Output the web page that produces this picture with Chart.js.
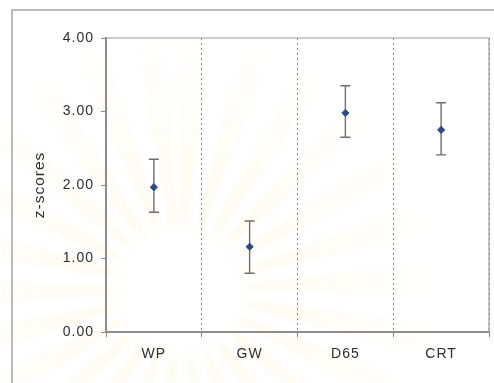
<!DOCTYPE html>
<html>
<head>
<meta charset="utf-8">
<script src="https://cdn.jsdelivr.net/npm/chart.js@4.4.0/dist/chart.umd.min.js"></script>
<style>
  html, body { margin: 0; padding: 0; background: #fff; }
  #wrap { position: relative; width: 494px; height: 383px; background: #fff; overflow: hidden; }
  #seal {
    position: absolute; left: 0; top: 0; width: 494px; height: 383px;
    background: repeating-conic-gradient(from 0deg at 180px 290px, rgba(248,232,180,0.3) 0deg 7deg, rgba(255,255,255,0) 7deg 14deg);
    -webkit-mask-image: radial-gradient(circle at 180px 290px, rgba(0,0,0,0) 0 55px, rgba(0,0,0,0.6) 75px, rgba(0,0,0,0.35) 170px, rgba(0,0,0,0) 260px);
    mask-image: radial-gradient(circle at 180px 290px, rgba(0,0,0,0) 0 55px, rgba(0,0,0,0.6) 75px, rgba(0,0,0,0.35) 170px, rgba(0,0,0,0) 260px);
    filter: blur(2px);
  }
  canvas { position: absolute; left: 0; top: 0; filter: blur(0.45px); }
</style>
</head>
<body>
<div id="wrap"><div id="seal"></div><canvas id="c" width="494" height="383"></canvas></div>
<script>
// illuminant categories and their z-score means with upper/lower error limits
const categories = ['WP', 'GW', 'D65', 'CRT'];
const means = [1.97, 1.16, 2.98, 2.75];
const upper = [2.35, 1.51, 3.35, 3.12];
const lower = [1.63, 0.80, 2.65, 2.41];
const yTicks = [0, 1, 2, 3, 4];

const frame = {
  id: 'frame',
  beforeDraw(chart) {
    const ctx = chart.ctx;
    // slightly wider tracking on all axis text
    ctx.letterSpacing = '1px';
    ctx.save();
    ctx.strokeStyle = '#a4a4a4';
    ctx.lineWidth = 1.5;
    ctx.strokeRect(12, 10, 500, 400);
    ctx.restore();
  },
  afterDatasetsDraw(chart) {
    const ctx = chart.ctx;
    const a = chart.chartArea;
    ctx.save();
    ctx.strokeStyle = '#9a9a9a';
    ctx.lineWidth = 1.2;
    ctx.beginPath();
    ctx.moveTo(a.left, a.top); ctx.lineTo(a.right, a.top); ctx.lineTo(a.right, a.bottom);
    ctx.stroke();
    ctx.restore();
  }
};

// vertical error bars with caps, drawn under the markers
const errorBars = {
  id: 'errorBars',
  beforeDatasetsDraw(chart) {
    const ctx = chart.ctx;
    const x = chart.scales.x, y = chart.scales.y;
    ctx.save();
    ctx.strokeStyle = '#6e6e72';
    ctx.lineWidth = 1.4;
    categories.forEach((c, i) => {
      const px = x.getPixelForValue(i);
      const top = y.getPixelForValue(upper[i]);
      const bot = y.getPixelForValue(lower[i]);
      ctx.beginPath();
      ctx.moveTo(px, top); ctx.lineTo(px, bot);
      ctx.moveTo(px - 5, top); ctx.lineTo(px + 5, top);
      ctx.moveTo(px - 5, bot); ctx.lineTo(px + 5, bot);
      ctx.stroke();
    });
    ctx.restore();
  }
};

new Chart(document.getElementById('c'), {
  type: 'line',
  data: {
    labels: categories,
    datasets: [{
      data: means,
      showLine: false,
      pointStyle: 'rectRot',
      pointRadius: 3.6,
      pointBackgroundColor: '#2c4a86',
      pointBorderColor: '#2c4a86',
      pointBorderWidth: 1
    }]
  },
  options: {
    responsive: false,
    animation: false,
    layout: { padding: { top: 38, right: 4, left: 0, bottom: 0 } },
    plugins: { legend: { display: false }, tooltip: { enabled: false } },
    scales: {
      x: {
        type: 'category',
        offset: true,
        grid: {
          offset: true,
          color: '#8e8e8e',
          lineWidth: 1,
          tickLength: 5,
          tickColor: '#888'
        },
        // border.dash dashes the category separators
        border: { color: '#8c8c8c', width: 2, dash: [2, 3] },
        ticks: {
          color: '#2e2e2e',
          font: { family: 'Liberation Sans', size: 14 },
          padding: 9
        },
        afterFit(s) { s.height = 383 - 332; }
      },
      y: {
        min: 0,
        max: 4,
        afterBuildTicks(s) { s.ticks = yTicks.map(v => ({ value: v })); },
        grid: { drawOnChartArea: false, tickLength: 5, tickColor: '#888' },
        border: { color: '#8c8c8c', width: 2 },
        ticks: {
          color: '#2e2e2e',
          font: { family: 'Liberation Sans', size: 14 },
          padding: 7,
          callback: v => Number(v).toFixed(2)
        },
        title: {
          display: true,
          text: 'z-scores',
          color: '#2e2e2e',
          font: { family: 'Liberation Sans', size: 15.5 },
          padding: { top: 30, bottom: 0 }
        },
        afterFit(s) { s.width = 106; }
      }
    }
  },
  plugins: [frame, errorBars]
});
</script>
</body>
</html>
